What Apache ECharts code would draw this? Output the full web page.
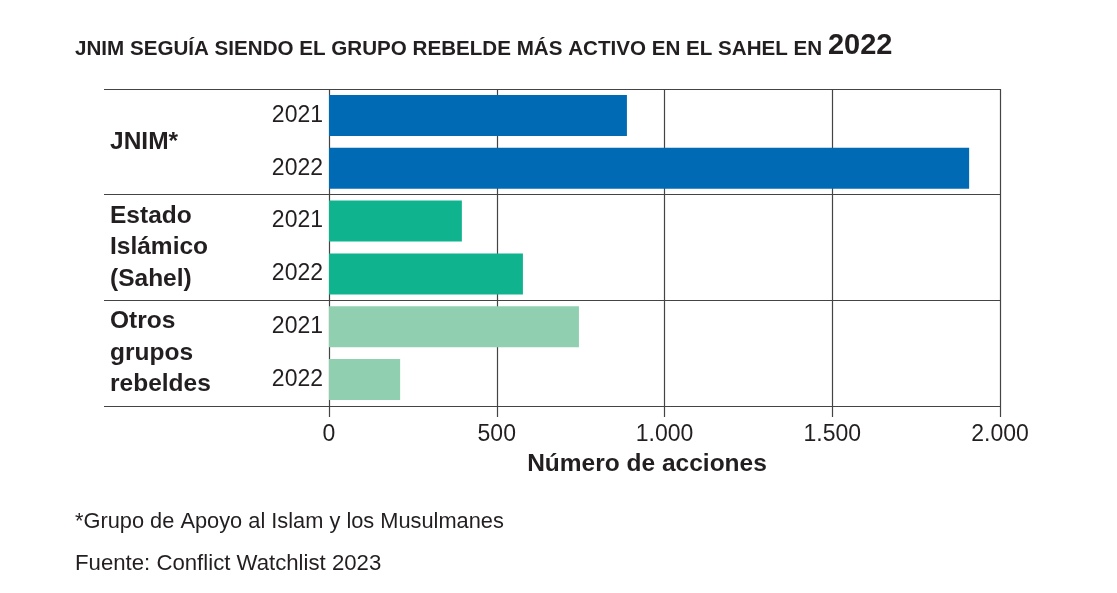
<!DOCTYPE html>
<html><head><meta charset="utf-8">
<script src="https://cdn.jsdelivr.net/npm/echarts@6/dist/echarts.min.js"></script>
<style>html,body{margin:0;padding:0;background:#fff}#c{width:1117px;height:593px}</style>
</head><body><div id="c"></div>
<script>
const years = ['2021', '2022', '2021', '2022', '2021', '2022'];
const groups = ['JNIM*', 'Estado\nIslámico\n(Sahel)', 'Otros\ngrupos\nrebeldes'];
const values = [888, 1908, 396, 578, 745, 212];
const groupOfBar = [0, 0, 1, 1, 2, 2];
const groupColors = ['#006ab4', '#0fb48e', '#90d0b1'];
const xMin = 0, xMax = 2000, xStep = 500;
const titleText = 'JNIM SEGUÍA SIENDO EL GRUPO REBELDE MÁS ACTIVO EN EL SAHEL EN ';
const titleYear = '2022';
const axisName = 'Número de acciones';
const footnote = '*Grupo de Apoyo al Islam y los Musulmanes';
const source = 'Fuente: Conflict Watchlist 2023';

const FONT = '"Liberation Sans", Arial, sans-serif';
const INK = '#231f20';
const LINE = '#444';

function fmt(v) { return String(v).replace(/\B(?=(\d{3})+(?!\d))/g, '.'); }

const chart = echarts.init(document.getElementById('c'), null, { renderer: 'canvas' });
chart.setOption({
  animation: false,
  backgroundColor: '#fff',
  title: [
    {
      left: 75, top: 30, padding: 0,
      text: '{a|' + titleText + '}{b|' + titleYear + '}',
      textStyle: {
        rich: {
          a: { fontFamily: FONT, fontWeight: 'bold', fontSize: 20.6, color: INK, lineHeight: 30, verticalAlign: 'bottom' },
          b: { fontFamily: FONT, fontWeight: 'bold', fontSize: 29, color: INK, lineHeight: 30, verticalAlign: 'bottom' }
        }
      }
    },
    { left: 75, top: 511, padding: 0, text: footnote, textStyle: { fontFamily: FONT, fontWeight: 'normal', fontSize: 21.8, color: INK } },
    { left: 75, top: 553, padding: 0, text: source, textStyle: { fontFamily: FONT, fontWeight: 'normal', fontSize: 22.2, color: INK } }
  ],
  grid: { left: 329, right: 117, top: 89, bottom: 187, containLabel: false },
  xAxis: {
    type: 'value', min: xMin, max: xMax, interval: xStep,
    position: 'bottom',
    axisLine: { show: false },
    axisTick: { show: true, length: 11, lineStyle: { color: LINE, width: 1.2 } },
    splitLine: { show: true, lineStyle: { color: LINE, width: 1.2 } },
    axisLabel: { formatter: fmt, margin: 17, fontFamily: FONT, fontSize: 23, color: INK },
    name: axisName, nameLocation: 'middle', nameGap: 46,
    nameTextStyle: { fontFamily: FONT, fontWeight: 'bold', fontSize: 24.5, color: INK, padding: [0, 35, 0, 0] }
  },
  yAxis: [
    {
      type: 'category', data: years, inverse: true, position: 'left',
      axisLine: { show: false }, axisTick: { show: false }, splitLine: { show: false },
      axisLabel: { margin: 6, fontFamily: FONT, fontSize: 23, color: INK, align: 'right' }
    },
    {
      type: 'category', data: groups, inverse: true, position: 'left',
      axisLine: { show: false },
      axisTick: { show: true, length: 225, lineStyle: { color: LINE, width: 1.2 } },
      splitLine: { show: true, lineStyle: { color: LINE, width: 1.2 } },
      axisLabel: { margin: 219, align: 'left', fontFamily: FONT, fontWeight: 'bold', fontSize: 24.5, lineHeight: 31.5, color: INK }
    }
  ],
  series: [{
    type: 'bar',
    yAxisIndex: 0,
    barWidth: 41,
    data: values.map((v, i) => ({ value: v, itemStyle: { color: groupColors[groupOfBar[i]] } })),
    z: 3
  }]
});
</script></body></html>
